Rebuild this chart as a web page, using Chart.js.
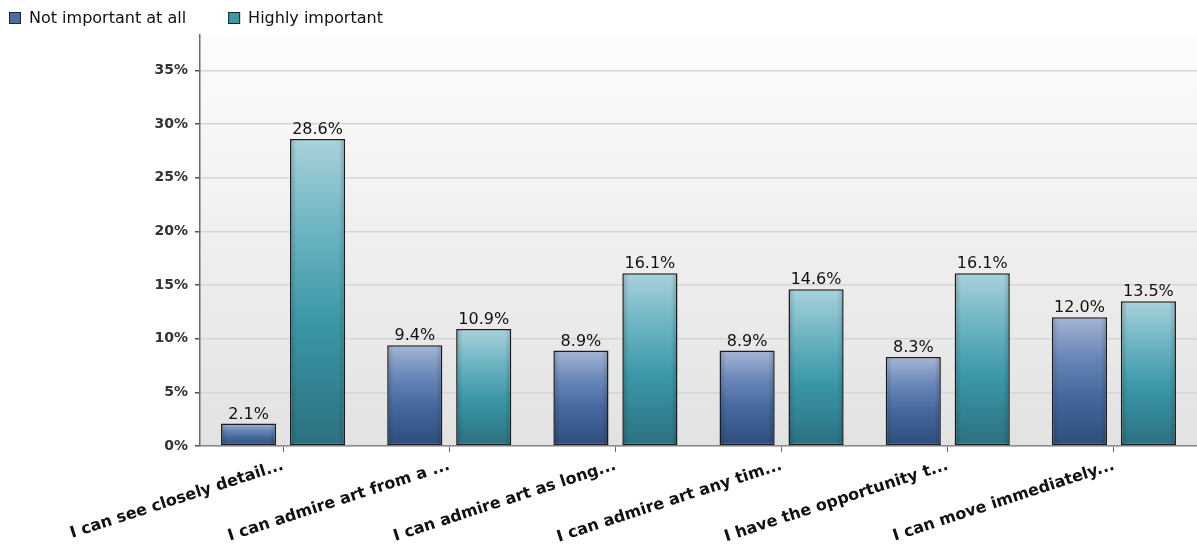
<!DOCTYPE html>
<html>
<head>
<meta charset="utf-8">
<script src="https://cdn.jsdelivr.net/npm/chart.js@4"></script>
<style>
  html, body { margin: 0; padding: 0; background: #ffffff; }
  #wrap { width: 1197px; height: 557px; position: relative; }
</style>
</head>
<body>
<div id="wrap"><canvas id="c"></canvas></div>
<script>
const categories = [
  "I can see closely detail...",
  "I can admire art from a ...",
  "I can admire art as long...",
  "I can admire art any tim...",
  "I have the opportunity t...",
  "I can move immediately..."
];
const seriesNames = ["Not important at all", "Highly important"];
const notImportant = [2.1, 9.4, 8.9, 8.9, 8.3, 12.0];
const highlyImportant = [28.6, 10.9, 16.1, 14.6, 16.1, 13.5];
const yTickValues = [0, 5, 10, 15, 20, 25, 30, 35];

const palettes = [
  { solid: "#4a6ea4", stops: ["#a6b6d6", "#6a88b8", "#45699f", "#2d4c7a"] },
  { solid: "#3c98a8", stops: ["#a8d2db", "#6cb4c2", "#3a97a8", "#2b7080"] }
];

function barGradient(pal) {
  return function (ctx) {
    const chart = ctx.chart;
    if (ctx.type !== 'data' || !chart.chartArea || !chart.scales.y) return pal.solid;
    const ys = chart.scales.y;
    const top = ys.getPixelForValue(ctx.raw);
    const bottom = ys.getPixelForValue(0);
    if (!isFinite(top) || !isFinite(bottom) || bottom - top < 1) return pal.solid;
    const g = chart.ctx.createLinearGradient(0, top, 0, bottom);
    g.addColorStop(0, pal.stops[0]);
    g.addColorStop(0.3, pal.stops[1]);
    g.addColorStop(0.6, pal.stops[2]);
    g.addColorStop(1, pal.stops[3]);
    return g;
  };
}

const plotBg = {
  id: 'plotBg',
  beforeDraw(chart) {
    const a = chart.chartArea; if (!a) return;
    const c = chart.ctx;
    const g = c.createLinearGradient(0, a.top, 0, a.bottom);
    g.addColorStop(0, "#fcfcfc");
    g.addColorStop(1, "#e2e2e2");
    c.save();
    c.fillStyle = g;
    c.fillRect(a.left, a.top, a.right - a.left, a.bottom - a.top);
    c.restore();
  }
};

const barExtras = {
  id: 'barExtras',
  afterDatasetsDraw(chart) {
    const c = chart.ctx;
    c.save();
    chart.data.datasets.forEach((ds, di) => {
      const meta = chart.getDatasetMeta(di);
      meta.data.forEach((el, i) => {
        const w = el.width, x0 = el.x - w / 2, top = el.y, h = el.base - el.y;
        const hg = c.createLinearGradient(x0, 0, x0 + w, 0);
        hg.addColorStop(0, "rgba(0,0,0,0.18)");
        hg.addColorStop(0.12, "rgba(0,0,0,0)");
        hg.addColorStop(0.88, "rgba(0,0,0,0)");
        hg.addColorStop(1, "rgba(0,0,0,0.18)");
        c.fillStyle = hg;
        c.fillRect(x0 + 1, top + 1, w - 2, h - 1);
        c.fillStyle = "#111";
        c.font = "16px 'DejaVu Sans'";
        c.textAlign = "center";
        c.textBaseline = "bottom";
        c.fillText(ds.data[i].toFixed(1) + "%", el.x, top - 1);
      });
    });
    c.restore();
  }
};

const customLegend = {
  id: 'customLegend',
  afterDraw(chart) {
    const c = chart.ctx;
    c.save();
    c.font = "16px 'DejaVu Sans'";
    c.textBaseline = "middle";
    c.textAlign = "left";
    let x = 9;
    const y = 18;
    chart.data.datasets.forEach((ds, i) => {
      c.fillStyle = palettes[i].solid;
      c.fillRect(x, y - 6, 12, 12);
      c.strokeStyle = "#222";
      c.lineWidth = 1;
      c.strokeRect(x + 0.5, y - 5.5, 11, 11);
      c.fillStyle = "#111";
      c.fillText(ds.label, x + 20, y + 1);
      x += 20 + c.measureText(ds.label).width + 42;
    });
    c.restore();
  }
};

new Chart(document.getElementById('c'), {
  type: 'bar',
  data: {
    labels: categories,
    datasets: [
      { label: seriesNames[0], data: notImportant, backgroundColor: barGradient(palettes[0]),
        borderColor: "#1e1e1e", borderWidth: 1.5, borderSkipped: false },
      { label: seriesNames[1], data: highlyImportant, backgroundColor: barGradient(palettes[1]),
        borderColor: "#1e1e1e", borderWidth: 1.5, borderSkipped: false }
    ]
  },
  options: {
    responsive: true,
    maintainAspectRatio: false,
    animation: false,
    layout: { padding: { top: 35, left: 0, right: 0, bottom: 0 } },
    datasets: { bar: { categoryPercentage: 0.83, barPercentage: 0.8 } },
    plugins: { legend: { display: false }, tooltip: { enabled: false } },
    scales: {
      x: {
        grid: { offset: false, drawOnChartArea: false, tickLength: 6, tickColor: "#666", lineWidth: 1 },
        border: { color: "#8a8a8a", width: 1.5 },
        ticks: {
          color: "#111",
          font: { family: "'DejaVu Sans'", size: 16, weight: 'bold' },
          minRotation: 18, maxRotation: 18, autoSkip: false, padding: 4
        },
        afterFit(scale) { scale.height = 111; scale.paddingLeft = 0; scale.paddingRight = 0; }
      },
      y: {
        min: 0, max: 38.3,
        afterBuildTicks(scale) { scale.ticks = yTickValues.map(v => ({ value: v })); },
        grid: { color: "#d6d6d6", lineWidth: 1.5, tickLength: 5, tickColor: "#555" },
        border: { color: "#6a6a6a", width: 1.5 },
        ticks: {
          color: "#333",
          padding: 7,
          font: { family: "'DejaVu Sans'", size: 14, weight: 'bold' },
          callback: (v) => v + "%"
        },
        afterFit(scale) { scale.width = 200; }
      }
    }
  },
  plugins: [plotBg, barExtras, customLegend]
});
</script>
</body>
</html>
